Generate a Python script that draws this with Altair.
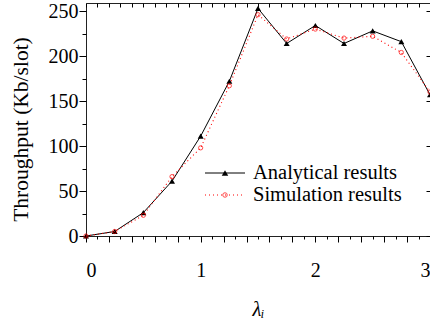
import altair as alt
import pandas as pd

# ---- data ----
lam = [0, 0.25, 0.5, 0.75, 1.0, 1.25, 1.5, 1.75, 2.0, 2.25, 2.5, 2.75, 3.0]
analytical = [0, 5, 26, 61, 111, 172, 253, 214, 234, 214, 228, 216, 157]
simulation = [0, 5, 23, 66, 98, 167, 246, 219, 230, 220, 222, 204, 160]
series_names = ["Analytical results", "Simulation results"]

x_ticks = [round(i * 0.1, 1) for i in range(31)]
y_ticks = [0, 25, 50, 75, 100, 125, 150, 175, 200, 225, 250]
y_major = [0, 50, 100, 150, 200, 250]

FONT = "Liberation Serif"
FS = 20
TFS = 20.5

df = pd.DataFrame({"lam": lam, "ana": analytical, "sim": simulation})

xs = alt.Scale(domain=[0, 3], nice=False, zero=False)
ys = alt.Scale(domain=[0, 259], nice=False)

x_bottom = alt.Axis(
    values=x_ticks, orient="bottom", grid=False, domain=False,
    labelExpr="datum.value % 1 === 0 ? format(datum.value, 'd') : ''",
    labelOverlap=False,
    tickSize={"condition": {"test": "round(datum.value*10) % 2 === 0", "value": 6}, "value": 3},
    labelPadding=18, labelFont=FONT, labelFontSize=FS, labelColor="black",
    tickColor="black", title="λᵢ", titleFont=FONT, titleFontSize=TFS,
    titleFontStyle="italic", titleFontWeight="normal", titleColor="black", titlePadding=19,
)
y_left = alt.Axis(
    values=y_ticks, orient="left", grid=False, domain=False,
    labelExpr="datum.value % 50 === 0 ? format(datum.value, 'd') : ''",
    labelOverlap=False,
    tickSize={"condition": {"test": "datum.value % 50 === 0", "value": 7}, "value": 4},
    labelPadding=1, labelFont=FONT, labelFontSize=FS, labelColor="black",
    tickColor="black", title="Throughput (Kb/slot)", titleFont=FONT, titleFontSize=21.5,
    titleFontWeight="normal", titleColor="black", titlePadding=16, titleY=126,
)
x_top = alt.Axis(values=x_ticks, orient="top", grid=False, domain=False, labels=False,
                 tickSize=4, offset=-4, tickColor="black", title=None)
y_right = alt.Axis(values=y_major, orient="right", grid=False, domain=False, labels=False,
                   tickSize=4, offset=-4, tickColor="black", title=None)

base = alt.Chart(df)

ana_line = base.mark_line(color="black", strokeWidth=1).encode(
    x=alt.X("lam:Q", scale=xs, axis=x_bottom),
    y=alt.Y("ana:Q", scale=ys, axis=y_left),
)
ana_pts = base.mark_point(shape="triangle-up", filled=True, color="black", size=36, opacity=1).encode(
    x=alt.X("lam:Q", scale=xs, axis=x_top),
    y=alt.Y("ana:Q", scale=ys, axis=y_right),
)
sim_line = base.mark_line(color="red", strokeWidth=1.1, strokeDash=[1, 3]).encode(
    x=alt.X("lam:Q", scale=xs, axis=None),
    y=alt.Y("sim:Q", scale=ys, axis=None),
)
sim_pts = base.mark_point(shape="circle", filled=False, color="red", size=18, strokeWidth=1).encode(
    x=alt.X("lam:Q", scale=xs, axis=None),
    y=alt.Y("sim:Q", scale=ys, axis=None),
)

# ---- manual legend ----
leg1 = pd.DataFrame({"t": [series_names[0]]})
leg2 = pd.DataFrame({"t": [series_names[1]]})
l1_line = alt.Chart(leg1).mark_rule(color="black", strokeWidth=1).encode(
    x=alt.value(119), x2=alt.value(159), y=alt.value(170))
l1_pt = alt.Chart(leg1).mark_point(shape="triangle-up", filled=True, color="black", size=42, opacity=1).encode(
    x=alt.value(139), y=alt.value(170))
l1_txt = alt.Chart(leg1).mark_text(align="left", baseline="middle", font=FONT, fontSize=TFS, color="black").encode(
    x=alt.value(167), y=alt.value(170), text="t:N")
l2_line = alt.Chart(leg2).mark_rule(color="red", strokeWidth=1.1, strokeDash=[1, 3]).encode(
    x=alt.value(119), x2=alt.value(159), y=alt.value(192))
l2_pt = alt.Chart(leg2).mark_point(shape="circle", filled=False, color="red", size=20, strokeWidth=1).encode(
    x=alt.value(139), y=alt.value(192))
l2_txt = alt.Chart(leg2).mark_text(align="left", baseline="middle", font=FONT, fontSize=TFS, color="black").encode(
    x=alt.value(167), y=alt.value(192), text="t:N")

chart = alt.layer(
    ana_line, ana_pts, sim_line, sim_pts,
    l1_line, l1_pt, l1_txt, l2_line, l2_pt, l2_txt,
).resolve_axis(x="independent", y="independent").properties(
    width=344, height=233, autosize="none",
    padding={"left": 86, "top": 3, "right": 0, "bottom": 87},
    background="white",
).configure_view(stroke="#222222", strokeWidth=1).configure_axis(
    labelFont=FONT, titleFont=FONT
).configure_text(font=FONT)

chart.save("out.html", embed_options={"renderer": "svg", "actions": False})
